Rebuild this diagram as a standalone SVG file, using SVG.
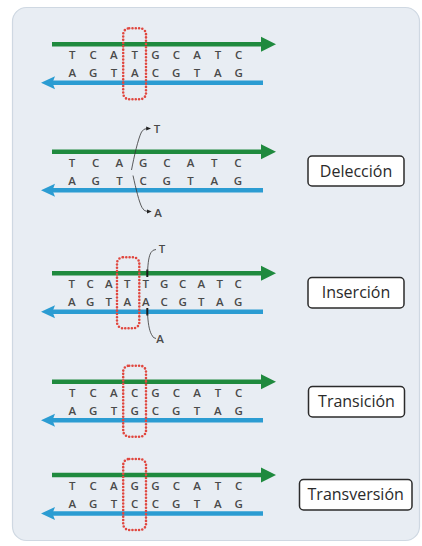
<svg xmlns="http://www.w3.org/2000/svg" width="422" height="546" viewBox="0 0 422 546">
  <style>
    .base{font-family:"Open Sans","Liberation Sans",sans-serif;font-size:11.5px;font-weight:600;fill:#4a4a4a;text-anchor:middle}
    .lbl{font-family:"Open Sans","Liberation Sans",sans-serif;font-size:16px;fill:#2a2a2a;text-anchor:middle}
    .tag{fill:#ffffff;stroke:#2b2b2b;stroke-width:1.5}
    .mark{fill:none;stroke:#e0473f;stroke-width:2.6;stroke-dasharray:0 3.3;stroke-linecap:round}
    .lead{fill:none;stroke:#333333;stroke-width:0.8}
    .fw{stroke:#1f8a3e;stroke-width:4.5}
    .rv{stroke:#2b9cd2;stroke-width:4.5}
  </style>
  <defs>
    <!-- double strand: forward strand at y=0, reverse strand below -->
    <g id="duplex">
      <line class="fw" x1="52" y1="0" x2="263" y2="0"/>
      <path d="M261,-7.5 L276,0 L261,7.5 Z" fill="#1f8a3e"/>
      <line class="rv" x1="52" y1="38.5" x2="263" y2="38.5"/>
      <path d="M41,38.5 L55,32 L52.5,38.5 L55,45 Z" fill="#2b9cd2"/>
    </g>
    <marker id="tip" viewBox="0 0 6 6" refX="1" refY="3" markerWidth="5" markerHeight="5" orient="auto" markerUnits="userSpaceOnUse">
      <path d="M0,0.5 L6,3 L0,5.5 Z" fill="#222222"/>
    </marker>
  </defs>

  <!-- panel background -->
  <rect x="12.5" y="7.5" width="407" height="533" rx="14" fill="#e8edf3" stroke="#cfd8e2" stroke-width="1.2"/>

  <!-- normal sequence -->
  <g id="normal">
    <use href="#duplex" transform="translate(0,44.3)"/>
    <text class="base" x="72.3 82.7 93.1 103.5 113.9 124.3 134.7 145.1 155.5 165.9 176.3 186.7 197.1 207.5 217.9 228.3 238.7" y="59.3">T C A T G C A T C</text>
    <text class="base" x="72.3 82.7 93.1 103.5 113.9 124.3 134.7 145.1 155.5 165.9 176.3 186.7 197.1 207.5 217.9 228.3 238.7" y="77.3">A G T A C G T A G</text>
    <rect class="mark" x="123.2" y="28.3" width="22.8" height="71" rx="6"/>
  </g>

  <!-- deletion -->
  <g id="delecion">
    <use href="#duplex" transform="translate(0,151.7)"/>
    <text class="base" x="72 83.9 95.7 107.6 119.4 131.3 143.1 155 166.8 178.7 190.5 202.4 214.2 226.1 237.9" y="166.7">T C A G C A T C</text>
    <text class="base" x="72 83.9 95.7 107.6 119.4 131.3 143.1 155 166.8 178.7 190.5 202.4 214.2 226.1 237.9" y="184.7">A G T C G T A G</text>
    <text class="base" x="157" y="132.5">T</text>
    <text class="base" x="158" y="217">A</text>
  </g>

  <!-- insertion -->
  <g id="insercion">
    <use href="#duplex" transform="translate(0,273.3)"/>
    <text class="base" x="71.7 81 90.2 99.5 108.7 118 127.2 136.5 145.7 155 164.2 173.5 182.7 192 201.2 210.5 219.7 229 238.2" y="288.3">T C A T T G C A T C</text>
    <text class="base" x="71.7 81 90.2 99.5 108.7 118 127.2 136.5 145.7 155 164.2 173.5 182.7 192 201.2 210.5 219.7 229 238.2" y="306.3">A G T A A C G T A G</text>
    <rect class="mark" x="117" y="257.3" width="22.3" height="71" rx="6"/>
    <line x1="147.3" y1="269.5" x2="147.3" y2="277" stroke="#1a1a1a" stroke-width="2"/>
    <line x1="147.3" y1="308" x2="147.3" y2="315.5" stroke="#1a1a1a" stroke-width="2"/>
    <text class="base" x="162" y="252.5">T</text>
    <text class="base" x="160" y="343">A</text>
  </g>

  <!-- transition -->
  <g id="transicion">
    <use href="#duplex" transform="translate(0,381.7)"/>
    <text class="base" x="72.3 82.7 93.1 103.5 113.9 124.3 134.7 145.1 155.5 165.9 176.3 186.7 197.1 207.5 217.9 228.3 238.7" y="396.7">T C A C G C A T C</text>
    <text class="base" x="72.3 82.7 93.1 103.5 113.9 124.3 134.7 145.1 155.5 165.9 176.3 186.7 197.1 207.5 217.9 228.3 238.7" y="414.7">A G T G C G T A G</text>
    <rect class="mark" x="123.2" y="365.7" width="22.8" height="71" rx="6"/>
  </g>

  <!-- transversion -->
  <g id="transversion">
    <use href="#duplex" transform="translate(0,475)"/>
    <text class="base" x="72.3 82.7 93.1 103.5 113.9 124.3 134.7 145.1 155.5 165.9 176.3 186.7 197.1 207.5 217.9 228.3 238.7" y="490">T C A G G C A T C</text>
    <text class="base" x="72.3 82.7 93.1 103.5 113.9 124.3 134.7 145.1 155.5 165.9 176.3 186.7 197.1 207.5 217.9 228.3 238.7" y="508">A G T C C G T A G</text>
    <rect class="mark" x="123.2" y="459" width="22.8" height="71" rx="6"/>
  </g>

  <!-- leader lines to the moved bases -->
  <g id="connectors">
    <path class="lead" d="M131.5,170 C134,157 138,139 141.5,132 Q143.5,128.5 147,128.5" marker-end="url(#tip)"/>
    <path class="lead" d="M133,175.5 C136,189 139,202 142,207.5 Q144,211.5 147.5,211.5" marker-end="url(#tip)"/>
    <path class="lead" d="M147.6,271 C148,263 148.8,256 151,252.5 Q152.8,249.5 156,249.5"/>
    <path class="lead" d="M147.6,314 C148,322 149,330 151.5,334.5 Q153.2,338.5 156,338.5"/>
  </g>

  <!-- mutation labels -->
  <g id="label-delecion">
    <rect class="tag" x="308" y="156" width="96" height="30" rx="4"/>
    <text class="lbl" x="356" y="176.5">Delección</text>
  </g>
  <g id="label-insercion">
    <rect class="tag" x="308" y="277.5" width="96" height="30.5" rx="4"/>
    <text class="lbl" x="356" y="298.3">Inserción</text>
  </g>
  <g id="label-transicion">
    <rect class="tag" x="308.5" y="386.5" width="96" height="30.5" rx="4"/>
    <text class="lbl" x="356.5" y="407.3">Transición</text>
  </g>
  <g id="label-transversion">
    <rect class="tag" x="299.5" y="479.5" width="112.5" height="30.5" rx="4"/>
    <text class="lbl" x="355.7" y="500.3">Transversión</text>
  </g>
</svg>
